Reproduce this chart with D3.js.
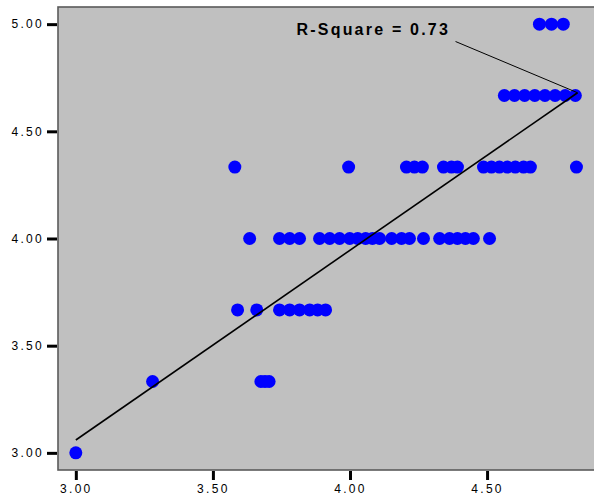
<!DOCTYPE html>
<html>
<head>
<meta charset="utf-8">
<script src="https://cdn.jsdelivr.net/npm/d3@7"></script>
<style>
  html, body { margin: 0; padding: 0; background: #fff; }
  svg { display: block; }
  .tick text { font-family: "Liberation Sans", Arial, sans-serif; font-size: 12px; letter-spacing: 2.3px; fill: #000; }
</style>
</head>
<body>
<div id="chart"></div>
<script>
// y levels and the x values of the points that sit on each of them
const row300 = [3.00];
const row333 = [3.28, 3.675, 3.69, 3.705];
const row367 = [3.59, 3.66, 3.743, 3.78, 3.816, 3.853, 3.882, 3.911];
const row400 = [3.634, 3.743, 3.78, 3.816, 3.889, 3.926, 3.962, 3.999, 4.028, 4.057,
                4.082, 4.108, 4.152, 4.188, 4.217, 4.268, 4.327, 4.363, 4.392, 4.421,
                4.45, 4.509];
const row433 = [3.58, 3.995, 4.206, 4.235, 4.264, 4.341, 4.37, 4.392, 4.487, 4.516,
                4.545, 4.574, 4.603, 4.633, 4.658, 4.826];
const row467 = [4.563, 4.6, 4.637, 4.674, 4.711, 4.748, 4.785, 4.822];
const row500 = [4.691, 4.735, 4.778];

const levels = [3.00, 3.333, 3.667, 4.00, 4.333, 4.667, 5.00];
const rows = [row300, row333, row367, row400, row433, row467, row500];

const xTicks = [3.0, 3.5, 4.0, 4.5];
const yTicks = [3.0, 3.5, 4.0, 4.5, 5.0];

// fitted line end points and the R-square note
const fitLine = [[3.0, 3.06], [4.83, 4.68]];
const rSquare = 0.73;
const noteAt = [3.805, 4.948];
const leaderFrom = [4.385, 4.919];

const width = 594, height = 499;

const points = rows.flatMap((r, i) => r.map(x => ({ x, y: levels[i] })));

const x = d3.scaleLinear().domain([2.935, 4.89]).range([58, 594]);
const y = d3.scaleLinear().domain([2.92, 5.08]).range([470, 7]);

const svg = d3.select("#chart").append("svg")
    .attr("width", width)
    .attr("height", height);

// plot area
svg.append("rect")
    .attr("x", x.range()[0])
    .attr("y", y.range()[1])
    .attr("width", x.range()[1] - x.range()[0] + 10)
    .attr("height", y.range()[0] - y.range()[1])
    .attr("fill", "#c0c0c0")
    .attr("stroke", "#5a5a5a")
    .attr("stroke-width", 1.6);

// axes
const yAxis = svg.append("g")
    .attr("transform", `translate(${x.range()[0] - 1},0)`)
    .call(d3.axisLeft(y).tickValues(yTicks).tickFormat(d3.format(".2f")).tickSize(10).tickPadding(3));
yAxis.select(".domain").remove();
yAxis.selectAll(".tick line").attr("stroke-width", 3);

const xAxis = svg.append("g")
    .attr("transform", `translate(0,${y.range()[0] + 1})`)
    .call(d3.axisBottom(x).tickValues(xTicks).tickFormat(d3.format(".2f")).tickSize(9).tickPadding(4));
xAxis.select(".domain").remove();
xAxis.selectAll(".tick line").attr("stroke-width", 3);

// points
svg.append("g")
    .attr("fill", "#0000ff")
  .selectAll("circle")
  .data(points)
  .join("circle")
    .attr("cx", d => x(d.x))
    .attr("cy", d => y(d.y))
    .attr("r", 6.5);

// fit line
svg.append("path")
    .datum(fitLine)
    .attr("fill", "none")
    .attr("stroke", "#000")
    .attr("stroke-width", 1.6)
    .attr("d", d3.line().x(d => x(d[0])).y(d => y(d[1])));

// R-square note and its leader
svg.append("line")
    .attr("x1", x(leaderFrom[0]))
    .attr("y1", y(leaderFrom[1]))
    .attr("x2", x(fitLine[1][0]))
    .attr("y2", y(fitLine[1][1]))
    .attr("stroke", "#000")
    .attr("stroke-width", 1);

svg.append("text")
    .attr("x", x(noteAt[0]))
    .attr("y", y(noteAt[1]))
    .attr("font-family", "Liberation Sans, Arial, sans-serif")
    .attr("font-size", 16)
    .attr("font-weight", "bold")
    .attr("letter-spacing", 2.2)
    .text(`R-Square = ${rSquare.toFixed(2)}`);
</script>
</body>
</html>
